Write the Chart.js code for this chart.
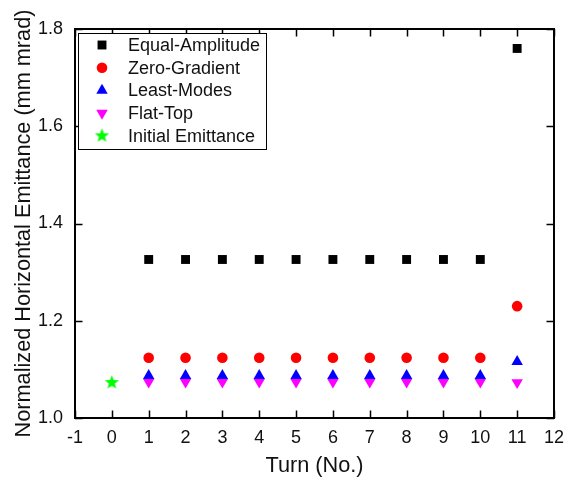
<!DOCTYPE html>
<html>
<head>
<meta charset="utf-8">
<script src="https://cdn.jsdelivr.net/npm/chart.js@4/dist/chart.umd.min.js"></script>
<style>
  html, body { margin: 0; padding: 0; background: #fff; }
  #wrap { width: 573px; height: 479px; }
</style>
</head>
<body>
<div id="wrap"><canvas id="chart" width="573" height="479"></canvas></div>
<script>
// emittance per turn for the four kick schemes, plus the starting value

const turns = [1, 2, 3, 4, 5, 6, 7, 8, 9, 10, 11];
const equalAmplitude = [1.326, 1.326, 1.326, 1.326, 1.326, 1.326, 1.326, 1.326, 1.326, 1.326, 1.760];
const zeroGradient = [1.124, 1.124, 1.124, 1.124, 1.124, 1.124, 1.124, 1.124, 1.124, 1.124, 1.230];
const leastModes = [1.087, 1.087, 1.087, 1.087, 1.087, 1.087, 1.087, 1.087, 1.087, 1.087, 1.116];
const flatTop = [1.074, 1.074, 1.074, 1.074, 1.074, 1.074, 1.074, 1.074, 1.074, 1.074, 1.073];
const initialTurn = [0];
const initialEmittance = [1.073];

const xTicks = [-1, 0, 1, 2, 3, 4, 5, 6, 7, 8, 9, 10, 11, 12];
const yTicks = [1.0, 1.2, 1.4, 1.6, 1.8];

const FONT = "'Liberation Sans', Arial, sans-serif";

// filled five-point star, used as a point style
function makeStar(r, color) {
  const c = document.createElement("canvas");
  const s = Math.ceil(r * 2 + 2);
  c.width = s; c.height = s;
  const g = c.getContext("2d");
  g.fillStyle = color;
  g.beginPath();
  for (let i = 0; i < 10; i++) {
    const rad = i % 2 === 0 ? r : r * 0.42;
    const a = -Math.PI / 2 + i * Math.PI / 5;
    const px = s / 2 + rad * Math.cos(a);
    const py = s / 2 + rad * Math.sin(a);
    if (i === 0) g.moveTo(px, py); else g.lineTo(px, py);
  }
  g.closePath();
  g.fill();
  return c;
}
const star = makeStar(7.5, "#00ff00");

const pts = (xs, ys) => ys.map((y, i) => ({ x: xs[i], y }));

const series = [
  { label: "Equal-Amplitude", data: pts(turns, equalAmplitude), color: "#000000", style: "rect", radius: 6.3, rotation: 0 },
  { label: "Zero-Gradient", data: pts(turns, zeroGradient), color: "#ff0000", style: "circle", radius: 5.3, rotation: 0 },
  { label: "Least-Modes", data: pts(turns, leastModes), color: "#0000ff", style: "triangle", radius: 6.6, rotation: 0 },
  { label: "Flat-Top", data: pts(turns, flatTop), color: "#ff00ff", style: "triangle", radius: 6.6, rotation: 180 },
  { label: "Initial Emittance", data: pts(initialTurn, initialEmittance), color: "#00ff00", style: star, radius: 7, rotation: 0 },
];

// box frame with inward ticks on all four sides
const framePlugin = {
  id: "frame",
  afterDatasetsDraw(chart) {
    const { ctx, chartArea: a, scales } = chart;
    const len = 7.5;
    ctx.save();
    ctx.strokeStyle = "#000";
    ctx.lineWidth = 1.5;
    ctx.beginPath();
    for (const v of xTicks) {
      const x = Math.round(scales.x.getPixelForValue(v)) + 0.5;
      ctx.moveTo(x, a.bottom); ctx.lineTo(x, a.bottom - len);
      ctx.moveTo(x, a.top); ctx.lineTo(x, a.top + len);
    }
    for (const v of yTicks) {
      const y = Math.round(scales.y.getPixelForValue(v)) + 0.5;
      ctx.moveTo(a.left, y); ctx.lineTo(a.left + len, y);
      ctx.moveTo(a.right, y); ctx.lineTo(a.right - len, y);
    }
    ctx.stroke();
    ctx.lineWidth = 2;
    ctx.strokeRect(a.left, a.top, a.right - a.left, a.bottom - a.top);
    ctx.restore();
  },
};

// boxed legend in the upper-left corner of the plot
const legendBox = {
  id: "legendBox",
  afterDraw(chart) {
    const { ctx, chartArea: a } = chart;
    const left = a.left + 3, top = a.top + 4, w = 188, h = 116;
    const rowH = 22.7;
    ctx.save();
    ctx.fillStyle = "#fff";
    ctx.fillRect(left, top, w, h);
    ctx.strokeStyle = "#000";
    ctx.lineWidth = 1;
    ctx.strokeRect(left + 0.5, top + 0.5, w, h);
    ctx.font = "18px " + FONT;
    ctx.textBaseline = "middle";
    series.forEach((s, i) => {
      const y = top + 12 + i * rowH;
      ctx.fillStyle = s.color;
      Chart.helpers.drawPoint(ctx, { pointStyle: s.style, radius: s.radius, rotation: s.rotation, borderWidth: 0 }, left + 24, y);
      ctx.fillStyle = "#111";
      ctx.fillText(s.label, left + 50, y + 1);
    });
    ctx.restore();
  },
};

new Chart(document.getElementById("chart"), {
  type: "scatter",
  data: {
    datasets: series.map((s) => ({
      label: s.label,
      data: s.data,
      pointStyle: s.style,
      pointRadius: s.radius,
      pointHoverRadius: s.radius,
      rotation: s.rotation,
      backgroundColor: s.color,
      borderColor: s.color,
      borderWidth: 0,
    })),
  },
  options: {
    responsive: false,
    devicePixelRatio: 1,
    animation: false,
    layout: { padding: { left: 0, top: 29, right: 13, bottom: 0 } },
    plugins: { legend: { display: false }, tooltip: { enabled: false } },
    scales: {
      x: {
        type: "linear",
        min: -1,
        max: 12,
        afterBuildTicks: (scale) => { scale.ticks = xTicks.map((v) => ({ value: v })); },
        afterFit: (scale) => { scale.height = 61; },
        grid: { display: false, drawTicks: false },
        border: { display: false },
        ticks: { color: "#111", padding: 9, font: { family: FONT, size: 18 }, maxRotation: 0 },
        title: { display: true, text: "Turn (No.)", color: "#111", font: { family: FONT, size: 21.7 }, padding: { top: 0, bottom: 0 } },
      },
      y: {
        min: 1.0,
        max: 1.8,
        afterBuildTicks: (scale) => { scale.ticks = yTicks.map((v) => ({ value: v })); },
        afterFit: (scale) => { scale.width = 75; },
        grid: { display: false, drawTicks: false },
        border: { display: false },
        ticks: { color: "#111", padding: 12, font: { family: FONT, size: 18 }, callback: (v) => v.toFixed(1) },
        title: { display: true, text: "Normalized Horizontal Emittance (mm mrad)", color: "#111", font: { family: FONT, size: 21.7 }, padding: { top: 11, bottom: 0 } },
      },
    },
  },
  plugins: [framePlugin, legendBox],
});
</script>
</body>
</html>
